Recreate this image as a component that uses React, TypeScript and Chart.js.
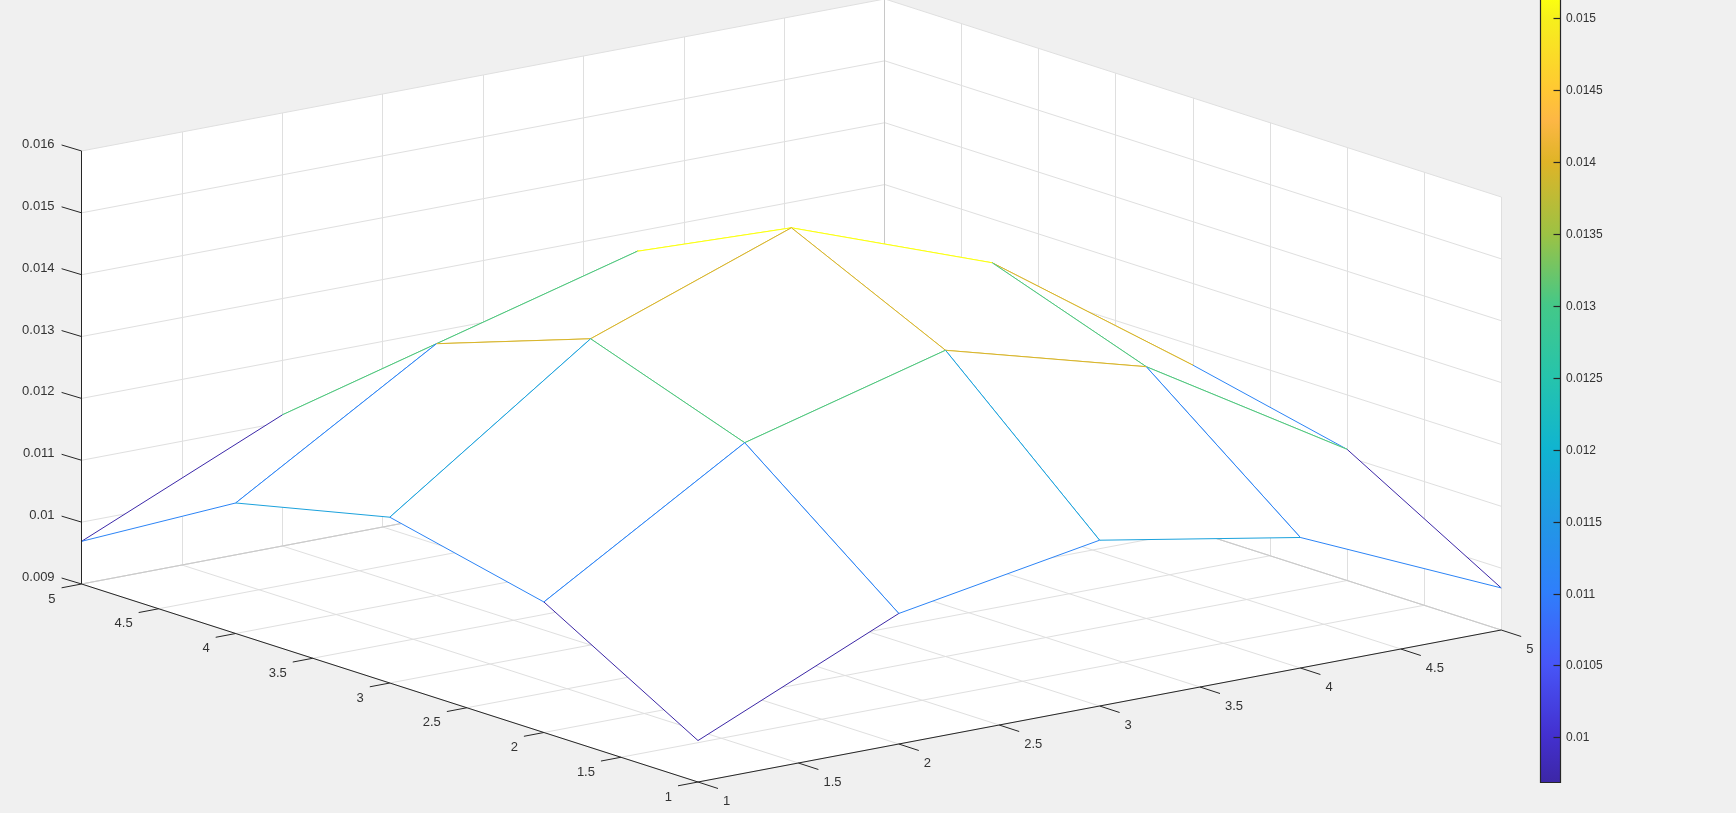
import React, { useEffect, useRef } from "react";
import { Chart, registerables } from "chart.js";

Chart.register(...registerables);

// Surface heights, one row per first-axis value (1..5), one column per second-axis value (1..5)
const zRow1 = [0.00967, 0.01111, 0.01168, 0.01111, 0.00969];
const zRow2 = [0.01111, 0.01307, 0.01395, 0.01307, 0.01112];
const zRow3 = [0.01168, 0.01395, 0.01513, 0.01395, 0.01168];
const zRow4 = [0.01111, 0.01307, 0.01395, 0.01307, 0.01111];
const zRow5 = [0.00968, 0.01112, 0.01168, 0.01111, 0.00969];
const zRows = [zRow1, zRow2, zRow3, zRow4, zRow5];

const gridPositions = [1, 2, 3, 4, 5];
const uTicks = [1, 1.5, 2, 2.5, 3, 3.5, 4, 4.5, 5];
const vTicks = [1, 1.5, 2, 2.5, 3, 3.5, 4, 4.5, 5];
const zTicks = [0.009, 0.01, 0.011, 0.012, 0.013, 0.014, 0.015, 0.016];
const colorbarTicks = [0.01, 0.0105, 0.011, 0.0115, 0.012, 0.0125, 0.013, 0.0135, 0.014, 0.0145, 0.015];
const colorbarLabels = ["0.01", "0.0105", "0.011", "0.0115", "0.012", "0.0125", "0.013", "0.0135", "0.014", "0.0145", "0.015"];

const colorMin = 0.00967;
const colorMax = 0.01513;
const colormapFractions = [0, 0.06, 0.152, 0.244, 0.335, 0.427, 0.518, 0.61, 0.7, 0.793, 0.846, 0.885, 0.976, 1];
const colormapColors = [
  "#3c27a6", "#4330cf", "#4756f8", "#2f7ffb", "#2198e4", "#10b4d0", "#26c4ac",
  "#44c888", "#9cc244", "#dfb427", "#fdb745", "#ffc833", "#f6f01c", "#fbff10",
];

// Projection of the MATLAB-style 3D box onto the figure
const FRONT = { x: 698, y: 782 };
const U_STEP = { x: 200.8, y: -38 };
const V_STEP = { x: -154.1, y: -49.5 };
const Z_PER_UNIT = 61860;
const Z0 = 0.009;
const Z1 = 0.016;

const project = (u: number, v: number, z: number) => ({
  x: FRONT.x + (u - 1) * U_STEP.x + (v - 1) * V_STEP.x,
  y: FRONT.y + (u - 1) * U_STEP.y + (v - 1) * V_STEP.y - (z - Z0) * Z_PER_UNIT,
});
const crispX = (p: { x: number; y: number }) => ({ x: Math.floor(p.x) + 0.5, y: p.y });

const hex = (s: string) => [1, 3, 5].map((i) => parseInt(s.slice(i, i + 2), 16));
const colorFor = (value: number) => {
  const t = Math.min(1, Math.max(0, (value - colorMin) / (colorMax - colorMin)));
  let i = 0;
  while (i < colormapFractions.length - 2 && t > colormapFractions[i + 1]) i++;
  const f = (t - colormapFractions[i]) / (colormapFractions[i + 1] - colormapFractions[i]);
  const a = hex(colormapColors[i]);
  const b = hex(colormapColors[i + 1]);
  const c = a.map((n, k) => Math.round(n + (b[k] - n) * f));
  return `rgb(${c[0]},${c[1]},${c[2]})`;
};

const GRID = "#dfdfdf";
const AXIS = "#262626";

const line = (points: { x: number; y: number }[], color: string, width = 1) => ({
  data: points,
  borderColor: color,
  borderWidth: width,
  pointRadius: 0,
  fill: false,
  tension: 0,
});
const shape = (points: { x: number; y: number }[], color: string) => ({
  data: [...points, points[0]],
  borderColor: color,
  backgroundColor: color,
  borderWidth: 0,
  pointRadius: 0,
  fill: "shape",
  tension: 0,
});

function buildDatasets() {
  const out: any[] = [];
  // Walls and floor
  out.push(shape([project(1, 5, Z0), project(5, 5, Z0), project(5, 5, Z1), project(1, 5, Z1)], "#ffffff"));
  out.push(shape([project(5, 1, Z0), project(5, 5, Z0), project(5, 5, Z1), project(5, 1, Z1)], "#ffffff"));
  out.push(shape([project(1, 1, Z0), project(5, 1, Z0), project(5, 5, Z0), project(1, 5, Z0)], "#ffffff"));
  // Grid
  uTicks.forEach((u) => {
    out.push(line([project(u, 1, Z0), project(u, 5, Z0)], GRID));
    out.push(line([crispX(project(u, 5, Z0)), crispX(project(u, 5, Z1))], GRID));
  });
  vTicks.forEach((v) => {
    out.push(line([project(1, v, Z0), project(5, v, Z0)], GRID));
    out.push(line([crispX(project(5, v, Z0)), crispX(project(5, v, Z1))], GRID));
  });
  zTicks.forEach((z) => {
    out.push(line([project(1, 5, z), project(5, 5, z)], GRID));
    out.push(line([project(5, 5, z), project(5, 1, z)], GRID));
  });
  // Darker seams along the back floor edges and the back corner
  out.push(line([project(1, 5, Z0), project(5, 5, Z0), project(5, 1, Z0)], "#c8c8c8"));
  out.push(line([crispX(project(5, 5, Z0)), crispX(project(5, 5, Z1))], "#c8c8c8"));

  // Mesh: back to front, white faces hide what lies behind them; each edge takes its lower-index vertex's colour
  const P = (i: number, j: number) => project(gridPositions[i], gridPositions[j], zRows[i][j]);
  const C = (i: number, j: number) => colorFor(zRows[i][j]);
  for (let sum = 6; sum >= 0; sum--) {
    for (let i = 3; i >= 0; i--) {
      const j = sum - i;
      if (j < 0 || j > 3) continue;
      out.push(shape([P(i, j), P(i + 1, j), P(i + 1, j + 1), P(i, j + 1)], "#ffffff"));
      out.push(line([P(i + 1, j), P(i + 1, j + 1)], C(i + 1, j)));
      out.push(line([P(i, j + 1), P(i + 1, j + 1)], C(i, j + 1)));
      out.push(line([P(i, j), P(i + 1, j)], C(i, j)));
      out.push(line([P(i, j), P(i, j + 1)], C(i, j)));
    }
  }

  // Rulers and ticks
  out.push(line([crispX(project(1, 5, Z0)), crispX(project(1, 5, Z1))], AXIS));
  out.push(line([project(1, 5, Z0), project(1, 1, Z0)], AXIS));
  out.push(line([project(1, 1, Z0), project(5, 1, Z0)], AXIS));
  zTicks.forEach((z) => {
    const p = project(1, 5, z);
    out.push(line([{ x: p.x - 20, y: p.y - 6 }, p], AXIS));
  });
  vTicks.forEach((v) => {
    const p = project(1, v, Z0);
    out.push(line([{ x: p.x - 20, y: p.y + 3.8 }, p], AXIS));
  });
  uTicks.forEach((u) => {
    const p = project(u, 1, Z0);
    out.push(line([p, { x: p.x + 20, y: p.y + 6.5 }], AXIS));
  });
  // Painted in array order: last entry on top
  return out.map((d, i) => ({ ...d, order: out.length - i }));
}

const CB_LEFT = 1540.5;
const CB_RIGHT = 1560.5;
const CB_BOTTOM = 782.5;
const CB_PER_UNIT = 143800;
const cbY = (v: number) => 737.3 - (v - 0.01) * CB_PER_UNIT;

const decorations = {
  id: "decorations",
  afterDatasetsDraw(chart: any) {
    const ctx = chart.ctx as CanvasRenderingContext2D;
    const sx = chart.scales.x;
    const sy = chart.scales.y;
    ctx.save();
    // Colorbar
    const top = sy.getPixelForValue(cbY(colorMax));
    const bottom = sy.getPixelForValue(CB_BOTTOM);
    const left = sx.getPixelForValue(CB_LEFT);
    const right = sx.getPixelForValue(CB_RIGHT);
    const g = ctx.createLinearGradient(0, bottom, 0, top);
    colormapFractions.forEach((f, i) => g.addColorStop(f, colormapColors[i]));
    ctx.fillStyle = g;
    ctx.fillRect(left, top, right - left, bottom - top);
    ctx.strokeStyle = AXIS;
    ctx.lineWidth = 1.2;
    ctx.beginPath();
    ctx.moveTo(left, top);
    ctx.lineTo(left, bottom);
    ctx.lineTo(right, bottom);
    ctx.lineTo(right, top);
    ctx.stroke();
    ctx.fillStyle = "#333333";
    ctx.font = '12px "Liberation Sans"';
    ctx.textAlign = "left";
    ctx.textBaseline = "middle";
    colorbarTicks.forEach((v, i) => {
      const y = Math.round(cbY(v)) + 0.5;
      ctx.beginPath();
      ctx.moveTo(right - 7, y);
      ctx.lineTo(right, y);
      ctx.stroke();
      ctx.fillText(colorbarLabels[i], 1566, y + 0.5);
    });
    // Axis tick labels
    ctx.font = '13px "Liberation Sans"';
    ctx.fillStyle = "#333333";
    ctx.textAlign = "right";
    zTicks.forEach((z) => {
      const p = project(1, 5, z);
      ctx.fillText(String(z), p.x - 27, p.y - 6.5);
    });
    vTicks.forEach((v) => {
      const p = project(1, v, Z0);
      ctx.fillText(String(v), p.x - 26, p.y + 15);
    });
    ctx.textAlign = "left";
    uTicks.forEach((u) => {
      const p = project(u, 1, Z0);
      ctx.fillText(String(u), p.x + 25, p.y + 19);
    });
    ctx.restore();
  },
};

export default function App() {
  const ref = useRef<HTMLCanvasElement | null>(null);
  useEffect(() => {
    const chart = new Chart(ref.current as HTMLCanvasElement, {
      type: "line",
      data: { datasets: buildDatasets() as any },
      options: {
        animation: false,
        responsive: false,
        devicePixelRatio: 1,
        events: [],
        layout: { padding: 0 },
        plugins: { legend: { display: false }, tooltip: { enabled: false }, title: { display: false } },
        scales: {
          x: { type: "linear", min: 0, max: 1736, display: false },
          y: { type: "linear", min: 0, max: 813, reverse: true, display: false },
        },
      },
      plugins: [decorations],
    } as any);
    return () => chart.destroy();
  }, []);
  return (
    <div style={{ position: "fixed", left: 0, top: 0, width: 1736, height: 813, background: "#f0f0f0", overflow: "hidden" }}>
      <canvas ref={ref} width={1736} height={813} style={{ display: "block", width: 1736, height: 813 }} />
    </div>
  );
}
